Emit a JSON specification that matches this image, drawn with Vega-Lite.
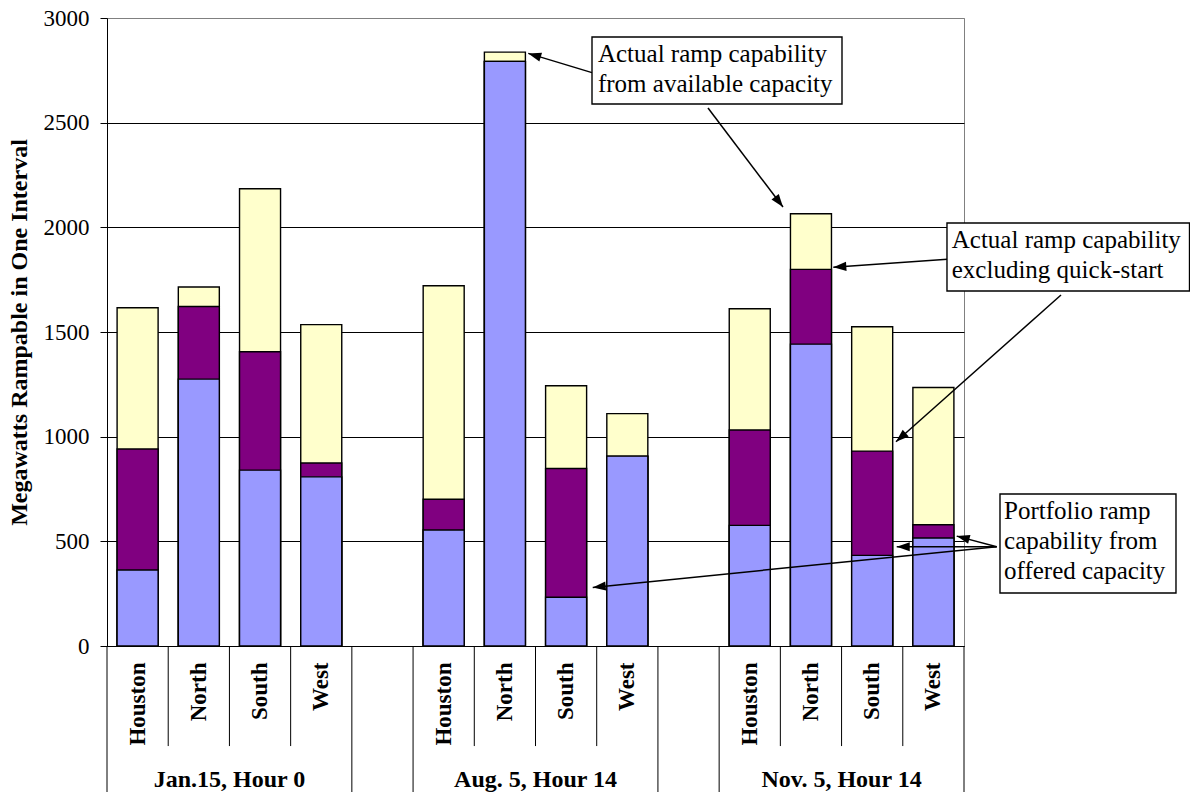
{
  "$schema": "https://vega.github.io/schema/vega-lite/v6.json",
  "width": 857,
  "height": 628,
  "autosize": {"type": "none"},
  "padding": {"left": 107, "top": 18, "right": 226, "bottom": 146},
  "background": "white",
  "config": {
    "font": "Liberation Serif",
    "view": {"stroke": "#808080", "strokeWidth": 1},
    "axisY": {
      "tickCount": 6,
      "labelFont": "Liberation Serif",
      "labelFontSize": 23,
      "labelColor": "black",
      "labelPadding": 11,
      "tickSize": 7,
      "tickColor": "black",
      "domainColor": "black",
      "gridColor": "#000000",
      "gridWidth": 1,
      "titleFont": "Liberation Serif",
      "titleFontWeight": "bold",
      "titleFontSize": 24,
      "titleColor": "black",
      "titlePadding": 12
    }
  },
  "datasets": {
    "bars": [
      {"slot": "Jan.15, Hour 0|Houston", "series": "Portfolio ramp capability from offered capacity", "mw": 363},
      {"slot": "Jan.15, Hour 0|Houston", "series": "Actual ramp capability excluding quick-start", "mw": 941},
      {"slot": "Jan.15, Hour 0|Houston", "series": "Actual ramp capability from available capacity", "mw": 1616},
      {"slot": "Jan.15, Hour 0|North", "series": "Portfolio ramp capability from offered capacity", "mw": 1275},
      {"slot": "Jan.15, Hour 0|North", "series": "Actual ramp capability excluding quick-start", "mw": 1622},
      {"slot": "Jan.15, Hour 0|North", "series": "Actual ramp capability from available capacity", "mw": 1715},
      {"slot": "Jan.15, Hour 0|South", "series": "Portfolio ramp capability from offered capacity", "mw": 840},
      {"slot": "Jan.15, Hour 0|South", "series": "Actual ramp capability excluding quick-start", "mw": 1406},
      {"slot": "Jan.15, Hour 0|South", "series": "Actual ramp capability from available capacity", "mw": 2184},
      {"slot": "Jan.15, Hour 0|West", "series": "Portfolio ramp capability from offered capacity", "mw": 808},
      {"slot": "Jan.15, Hour 0|West", "series": "Actual ramp capability excluding quick-start", "mw": 874},
      {"slot": "Jan.15, Hour 0|West", "series": "Actual ramp capability from available capacity", "mw": 1535},
      {"slot": "Aug. 5, Hour 14|Houston", "series": "Portfolio ramp capability from offered capacity", "mw": 554},
      {"slot": "Aug. 5, Hour 14|Houston", "series": "Actual ramp capability excluding quick-start", "mw": 701},
      {"slot": "Aug. 5, Hour 14|Houston", "series": "Actual ramp capability from available capacity", "mw": 1721},
      {"slot": "Aug. 5, Hour 14|North", "series": "Portfolio ramp capability from offered capacity", "mw": 2793},
      {"slot": "Aug. 5, Hour 14|North", "series": "Actual ramp capability excluding quick-start", "mw": 2793},
      {"slot": "Aug. 5, Hour 14|North", "series": "Actual ramp capability from available capacity", "mw": 2837},
      {"slot": "Aug. 5, Hour 14|South", "series": "Portfolio ramp capability from offered capacity", "mw": 233},
      {"slot": "Aug. 5, Hour 14|South", "series": "Actual ramp capability excluding quick-start", "mw": 848},
      {"slot": "Aug. 5, Hour 14|South", "series": "Actual ramp capability from available capacity", "mw": 1243},
      {"slot": "Aug. 5, Hour 14|West", "series": "Portfolio ramp capability from offered capacity", "mw": 907},
      {"slot": "Aug. 5, Hour 14|West", "series": "Actual ramp capability excluding quick-start", "mw": 907},
      {"slot": "Aug. 5, Hour 14|West", "series": "Actual ramp capability from available capacity", "mw": 1110},
      {"slot": "Nov. 5, Hour 14|Houston", "series": "Portfolio ramp capability from offered capacity", "mw": 576},
      {"slot": "Nov. 5, Hour 14|Houston", "series": "Actual ramp capability excluding quick-start", "mw": 1032},
      {"slot": "Nov. 5, Hour 14|Houston", "series": "Actual ramp capability from available capacity", "mw": 1611},
      {"slot": "Nov. 5, Hour 14|North", "series": "Portfolio ramp capability from offered capacity", "mw": 1442},
      {"slot": "Nov. 5, Hour 14|North", "series": "Actual ramp capability excluding quick-start", "mw": 1799},
      {"slot": "Nov. 5, Hour 14|North", "series": "Actual ramp capability from available capacity", "mw": 2065},
      {"slot": "Nov. 5, Hour 14|South", "series": "Portfolio ramp capability from offered capacity", "mw": 433},
      {"slot": "Nov. 5, Hour 14|South", "series": "Actual ramp capability excluding quick-start", "mw": 931},
      {"slot": "Nov. 5, Hour 14|South", "series": "Actual ramp capability from available capacity", "mw": 1525},
      {"slot": "Nov. 5, Hour 14|West", "series": "Portfolio ramp capability from offered capacity", "mw": 516},
      {"slot": "Nov. 5, Hour 14|West", "series": "Actual ramp capability excluding quick-start", "mw": 579},
      {"slot": "Nov. 5, Hour 14|West", "series": "Actual ramp capability from available capacity", "mw": 1235}
    ],
    "boundaries": [
      {"boundary": 0, "tier": "outer"},
      {"boundary": 1, "tier": "inner"},
      {"boundary": 2, "tier": "inner"},
      {"boundary": 3, "tier": "inner"},
      {"boundary": 4, "tier": "outer"},
      {"boundary": 5, "tier": "outer"},
      {"boundary": 6, "tier": "inner"},
      {"boundary": 7, "tier": "inner"},
      {"boundary": 8, "tier": "inner"},
      {"boundary": 9, "tier": "outer"},
      {"boundary": 10, "tier": "outer"},
      {"boundary": 11, "tier": "inner"},
      {"boundary": 12, "tier": "inner"},
      {"boundary": 13, "tier": "inner"},
      {"boundary": 14, "tier": "outer"}
    ],
    "groups": [
      {"group": "Jan.15, Hour 0", "center": 2},
      {"group": "Aug. 5, Hour 14", "center": 7},
      {"group": "Nov. 5, Hour 14", "center": 12}
    ],
    "boxes": [
      {"note": "Actual ramp capability\nfrom available capacity", "left": 7.923, "right": 12.007, "top": 2909, "bottom": 2589, "textX": 8.02, "textY": 2788},
      {"note": "Actual ramp capability\nexcluding quick-start", "left": 13.722, "right": 17.684, "top": 2021, "bottom": 1696, "textX": 13.8, "textY": 1901},
      {"note": "Portfolio ramp\ncapability from\noffered capacity", "left": 14.588, "right": 17.463, "top": 726, "bottom": 253, "textX": 14.654, "textY": 607}
    ],
    "arrows": [
      {"fromX": 7.923, "fromY": 2739, "toX": 6.882, "toY": 2831, "angle": 286.9},
      {"fromX": 9.818, "fromY": 2570, "toX": 11.043, "toY": 2097, "angle": 142.9},
      {"fromX": 13.727, "fromY": 1847, "toX": 11.865, "toY": 1809, "angle": 266},
      {"fromX": 15.585, "fromY": 1677, "toX": 12.889, "toY": 976, "angle": 228.4},
      {"fromX": 14.534, "fromY": 474, "toX": 7.935, "toY": 280, "angle": 264.3},
      {"fromX": 14.534, "fromY": 474, "toX": 12.901, "toY": 474, "angle": 270},
      {"fromX": 14.534, "fromY": 474, "toX": 13.881, "toY": 525, "angle": 285}
    ]
  },
  "resolve": {"scale": {"x": "independent"}, "axis": {"x": "independent"}},
  "layer": [
    {
      "data": {"name": "bars"},
      "encoding": {
        "x": {
          "field": "slot",
          "type": "nominal",
          "sort": null,
          "scale": {
            "domain": [
              "Jan.15, Hour 0|Houston", "Jan.15, Hour 0|North", "Jan.15, Hour 0|South", "Jan.15, Hour 0|West",
              "gap1",
              "Aug. 5, Hour 14|Houston", "Aug. 5, Hour 14|North", "Aug. 5, Hour 14|South", "Aug. 5, Hour 14|West",
              "gap2",
              "Nov. 5, Hour 14|Houston", "Nov. 5, Hour 14|North", "Nov. 5, Hour 14|South", "Nov. 5, Hour 14|West"
            ],
            "paddingInner": 0.33,
            "paddingOuter": 0.165
          },
          "axis": {
            "title": null,
            "labelExpr": "indexof(datum.value, '|') >= 0 ? split(datum.value, '|')[1] : ''",
            "labelAngle": 270,
            "labelFont": "Liberation Serif",
            "labelFontWeight": "bold",
            "labelFontSize": 23,
            "labelColor": "black",
            "labelPadding": 16,
            "labelOverlap": false,
            "ticks": false,
            "grid": false,
            "domainColor": "black",
            "domainWidth": 1
          }
        },
        "y": {
          "field": "mw",
          "type": "quantitative",
          "stack": null,
          "title": "Megawatts Rampable in One Interval",
          "scale": {"domain": [0, 3000], "nice": false},
          "axis": {
            "format": "d",
            "gridColor": {"condition": {"test": "datum.value == 3000", "value": "#808080"}, "value": "#000000"}
          }
        },
        "color": {
          "field": "series",
          "type": "nominal",
          "scale": {
            "domain": [
              "Portfolio ramp capability from offered capacity",
              "Actual ramp capability excluding quick-start",
              "Actual ramp capability from available capacity"
            ],
            "range": ["#9999FF", "#800080", "#FFFFCC"]
          },
          "legend": null
        }
      },
      "layer": [
        {
          "transform": [{"filter": "datum.series == 'Actual ramp capability from available capacity'"}],
          "mark": {"type": "bar", "stroke": "black", "strokeWidth": 1.4, "clip": false}
        },
        {
          "transform": [{"filter": "datum.series == 'Actual ramp capability excluding quick-start'"}],
          "mark": {"type": "bar", "stroke": "black", "strokeWidth": 1.4, "clip": false}
        },
        {
          "transform": [{"filter": "datum.series == 'Portfolio ramp capability from offered capacity'"}],
          "mark": {"type": "bar", "stroke": "black", "strokeWidth": 1.4, "clip": false}
        }
      ]
    },
    {
      "layer": [
        {
          "data": {"name": "boundaries"},
          "transform": [{"filter": "datum.tier == 'inner'"}],
          "mark": {"type": "rule", "color": "black", "strokeWidth": 1, "clip": false},
          "encoding": {
            "x": {"field": "boundary", "type": "quantitative", "scale": {"domain": [0, 14], "nice": false, "zero": false}, "axis": null},
            "y": {"datum": 0, "type": "quantitative", "title": "Megawatts Rampable in One Interval", "scale": {"domain": [0, 3000], "nice": false}},
            "y2": {"datum": -478}
          }
        },
        {
          "data": {"name": "boundaries"},
          "transform": [{"filter": "datum.tier == 'outer'"}],
          "mark": {"type": "rule", "color": "black", "strokeWidth": 1, "clip": false},
          "encoding": {
            "x": {"field": "boundary", "type": "quantitative", "scale": {"domain": [0, 14], "nice": false, "zero": false}, "axis": null},
            "y": {"datum": 0, "type": "quantitative", "title": "Megawatts Rampable in One Interval", "scale": {"domain": [0, 3000], "nice": false}},
            "y2": {"datum": -700}
          }
        },
        {
          "data": {"name": "groups"},
          "mark": {"type": "text", "font": "Liberation Serif", "fontWeight": "bold", "fontSize": 24, "color": "black", "align": "center", "baseline": "middle", "clip": false},
          "encoding": {
            "x": {"field": "center", "type": "quantitative", "scale": {"domain": [0, 14], "nice": false, "zero": false}, "axis": null},
            "y": {"datum": -640, "type": "quantitative", "title": "Megawatts Rampable in One Interval", "scale": {"domain": [0, 3000], "nice": false}},
            "text": {"field": "group"}
          }
        },
        {
          "data": {"name": "arrows"},
          "mark": {"type": "rule", "color": "black", "strokeWidth": 1.5, "clip": false},
          "encoding": {
            "x": {"field": "fromX", "type": "quantitative", "scale": {"domain": [0, 14], "nice": false, "zero": false}, "axis": null},
            "x2": {"field": "toX"},
            "y": {"field": "fromY", "type": "quantitative", "title": "Megawatts Rampable in One Interval", "scale": {"domain": [0, 3000], "nice": false}},
            "y2": {"field": "toY"}
          }
        },
        {
          "data": {"name": "boxes"},
          "mark": {"type": "rect", "fill": "white", "stroke": "black", "strokeWidth": 1.4, "clip": false},
          "encoding": {
            "x": {"field": "left", "type": "quantitative", "scale": {"domain": [0, 14], "nice": false, "zero": false}, "axis": null},
            "x2": {"field": "right"},
            "y": {"field": "top", "type": "quantitative", "title": "Megawatts Rampable in One Interval", "scale": {"domain": [0, 3000], "nice": false}},
            "y2": {"field": "bottom"}
          }
        },
        {
          "data": {"name": "boxes"},
          "mark": {"type": "text", "font": "Liberation Serif", "fontSize": 25, "lineHeight": 30, "lineBreak": "\n", "color": "black", "align": "left", "baseline": "alphabetic", "clip": false},
          "encoding": {
            "x": {"field": "textX", "type": "quantitative", "scale": {"domain": [0, 14], "nice": false, "zero": false}, "axis": null},
            "y": {"field": "textY", "type": "quantitative", "title": "Megawatts Rampable in One Interval", "scale": {"domain": [0, 3000], "nice": false}},
            "text": {"field": "note"}
          }
        },
        {
          "data": {"name": "arrows"},
          "mark": {"type": "point", "shape": "M0,0L-0.35,1L0.35,1Z", "filled": true, "color": "black", "opacity": 1, "size": 676, "clip": false},
          "encoding": {
            "x": {"field": "toX", "type": "quantitative", "scale": {"domain": [0, 14], "nice": false, "zero": false}, "axis": null},
            "y": {"field": "toY", "type": "quantitative", "title": "Megawatts Rampable in One Interval", "scale": {"domain": [0, 3000], "nice": false}},
            "angle": {"field": "angle", "type": "quantitative", "scale": null}
          }
        }
      ]
    }
  ]
}
